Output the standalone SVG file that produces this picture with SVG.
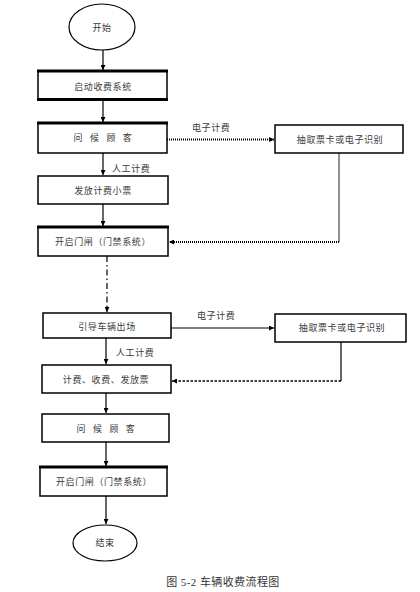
<svg xmlns="http://www.w3.org/2000/svg" width="420" height="592" viewBox="0 0 420 592">
<defs>
<style>
.box{fill:#fff;stroke:#000;stroke-width:1.5}
.thick{stroke:#000;stroke-width:3}
.t{font-family:"Liberation Serif","Noto Sans CJK SC",serif;font-size:9px;fill:#3a3a3a;text-anchor:middle;letter-spacing:0.6px}
.lbl{font-family:"Liberation Serif","Noto Sans CJK SC",serif;font-size:9px;fill:#3a3a3a;letter-spacing:0.6px}
.wide{letter-spacing:2.6px}
.ln{fill:none;stroke:#000;stroke-width:1.2}
</style>
<marker id="ah" viewBox="0 0 8 8" refX="8" refY="4" markerWidth="5" markerHeight="5" markerUnits="userSpaceOnUse" orient="auto">
<path d="M0,0 L8,4 L0,8 Z" fill="#000"/>
</marker>
</defs>
<rect width="420" height="592" fill="#fff"/>

<g id="connectors">
<line class="ln" x1="103" y1="50" x2="103" y2="70" marker-end="url(#ah)"/>
<line class="ln" x1="103" y1="100" x2="103" y2="122" marker-end="url(#ah)"/>
<line class="ln" x1="103" y1="153" x2="103" y2="175" marker-end="url(#ah)"/>
<line class="ln" x1="103" y1="204" x2="103" y2="226" marker-end="url(#ah)"/>
<line class="ln" x1="107" y1="256" x2="107" y2="312" stroke-dasharray="6 3 1.5 3" marker-end="url(#ah)"/>
<line class="ln" x1="106" y1="338" x2="106" y2="364" marker-end="url(#ah)"/>
<line class="ln" x1="106" y1="393" x2="106" y2="413" marker-end="url(#ah)"/>
<line class="ln" x1="106" y1="442" x2="106" y2="466" marker-end="url(#ah)"/>
<line class="ln" x1="106" y1="496" x2="106" y2="524" marker-end="url(#ah)"/>
<line x1="167" y1="139.5" x2="274" y2="139.5" stroke="#000" stroke-width="2" stroke-dasharray="1 1" marker-end="url(#ah)"/>
<polyline points="339,153 339,242" fill="none" stroke="#555" stroke-width="1.3"/>
<line x1="339" y1="242" x2="169" y2="242" stroke="#000" stroke-width="2" stroke-dasharray="1 1" marker-end="url(#ah)"/>
<line class="ln" x1="171" y1="328" x2="274" y2="328" marker-end="url(#ah)"/>
<polyline points="341,342 341,381" fill="none" stroke="#000" stroke-width="1.2"/>
<line x1="341" y1="381" x2="172" y2="381" stroke="#000" stroke-width="1.5" stroke-dasharray="2.5 1.5" marker-end="url(#ah)"/>
<text class="lbl" x="192" y="131">电子计费</text>
<text class="lbl" x="112" y="172">人工计费</text>
<text class="lbl" x="197" y="319">电子计费</text>
<text class="lbl" x="116" y="356">人工计费</text>
</g>

<g id="start">
<ellipse cx="102" cy="27" rx="33" ry="23" fill="#fff" stroke="#000" stroke-width="1.2"/>
<text class="t" x="102" y="31">开始</text>
</g>
<g id="box1">
<rect class="box" x="38" y="71" width="129" height="29"/>
<line class="thick" x1="37" y1="71" x2="168" y2="71"/>
<line class="thick" x1="37" y1="99.5" x2="168" y2="99.5"/>
<text class="t" x="103" y="90">启动收费系统</text>
</g>
<g id="box2">
<rect class="box" x="38" y="123" width="129" height="30"/>
<line class="thick" x1="37" y1="123" x2="168" y2="123"/>
<text class="t wide" x="104" y="141">问 候 顾 客</text>
</g>
<g id="box3">
<rect class="box" x="38" y="176" width="130" height="28"/>
<text class="t" x="103" y="194">发放计费小票</text>
</g>
<g id="box4">
<rect class="box" x="38" y="227" width="130" height="29"/>
<line class="thick" x1="37" y1="227" x2="169" y2="227"/>
<text class="t" x="103" y="245">开启门闸（门禁系统）</text>
</g>
<g id="extract1">
<rect class="box" x="275" y="125" width="128" height="28"/>
<text class="t" x="340" y="143">抽取票卡或电子识别</text>
</g>
<g id="box5">
<rect class="box" x="43" y="313" width="128" height="25"/>
<text class="t" x="107" y="330">引导车辆出场</text>
</g>
<g id="extract2">
<rect class="box" x="275" y="314" width="131" height="28"/>
<text class="t" x="342" y="331">抽取票卡或电子识别</text>
</g>
<g id="box6">
<rect class="box" x="42" y="365" width="129" height="28"/>
<text class="t" x="106" y="383">计费、收费、发放票</text>
</g>
<g id="box7">
<rect class="box" x="42" y="414" width="127" height="28"/>
<text class="t wide" x="107" y="432">问 候 顾 客</text>
</g>
<g id="box8">
<rect class="box" x="40" y="467" width="127" height="29"/>
<line class="thick" x1="39" y1="467" x2="168" y2="467"/>
<text class="t" x="104" y="485">开启门闸（门禁系统）</text>
</g>
<g id="end">
<ellipse cx="105" cy="543" rx="32" ry="18" fill="#fff" stroke="#000" stroke-width="1.2"/>
<text class="t" x="105" y="546">结束</text>
</g>
<text x="223" y="586" font-family="Liberation Serif,Noto Sans CJK SC,serif" font-size="11" fill="#333" text-anchor="middle" letter-spacing="0.4">图 5-2 车辆收费流程图</text>
</svg>
